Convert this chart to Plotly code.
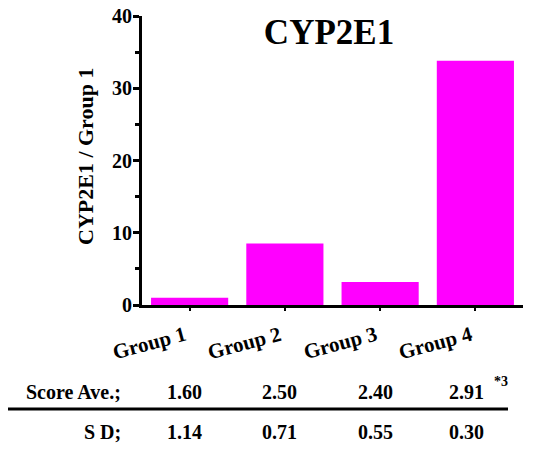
import plotly.graph_objects as go

groups = ["Group 1", "Group 2", "Group 3", "Group 4"]
ratio = [1.0, 8.5, 3.2, 33.8]
score_ave = ["1.60", "2.50", "2.40", "2.91"]
score_sd = ["1.14", "0.71", "0.55", "0.30"]
row_labels = ["Score Ave.;", "S D;"]
footnote = "*3"
y_ticks = [0, 10, 20, 30, 40]
y_title = "CYP2E1 / Group 1"
chart_title = "CYP2E1"

FONT = "Liberation Serif, Times New Roman, serif"
OFF = 8  # page body margin offset in the screenshot

def f(size):
    return dict(family=FONT, size=size, color="black", weight="bold")

fig = go.Figure()
fig.add_trace(go.Bar(x=groups, y=ratio, marker=dict(color="#ff00ff", line=dict(width=0)),
                     showlegend=False, hoverinfo="skip"))

fig.update_layout(
    width=539, height=450,
    margin=dict(l=142 - OFF, r=16 + OFF, t=16 - OFF, b=145 + OFF),
    paper_bgcolor="white", plot_bgcolor="white",
    bargap=0.19,
    font=dict(family=FONT, color="black"),
    title=dict(text=chart_title, font=f(35), x=(329 - OFF) / 539, xanchor="center",
               y=1 - (32 - OFF) / 450, yanchor="middle", xref="container", yref="container"),
)

fig.update_yaxes(
    range=[0, 40], tickmode="array", tickvals=y_ticks, showticklabels=False,
    automargin=False,
    showline=True, linewidth=3, linecolor="black",
    ticks="outside", ticklen=6, tickwidth=3, tickcolor="black",
    minor=dict(dtick=5, tick0=0, ticks="outside", ticklen=4, tickwidth=3, tickcolor="black"),
    showgrid=False, zeroline=False,
)
fig.update_xaxes(
    range=[-0.5, len(groups) - 0.5], autorange=False,
    showline=True, linewidth=3, linecolor="black", automargin=False, showticklabels=False,
    ticks="outside", ticklen=3, tickwidth=2, tickcolor="black",
    showgrid=False, zeroline=False,
)

def py(p):
    return (305 - p) / 289.0

def px(p):
    return (p - 142) / 381.0

# y tick labels placed on the y scale
for v in y_ticks:
    fig.add_annotation(text=str(v), xref="paper", yref="y", x=0, y=v, xanchor="right",
                       yanchor="middle", xshift=-8, showarrow=False, font=f(20))

# rotated group labels placed on the category scale
for g in groups:
    fig.add_annotation(text=g, xref="x", yref="y", x=g, y=0, xanchor="center", yanchor="middle",
                       xshift=-40, yshift=-38, textangle=-15, showarrow=False, font=f(21))

# y axis title
fig.add_annotation(text=y_title, xref="paper", yref="paper", x=px(85), y=py(157),
                   xanchor="center", yanchor="middle", textangle=-90, showarrow=False, font=f(22))

# table rows
for row, label, ypix in ((score_ave, row_labels[0], 392), (score_sd, row_labels[1], 432)):
    fig.add_annotation(text=label, xref="paper", yref="paper", x=px(123), y=py(ypix),
                       xanchor="right", yanchor="middle", showarrow=False, font=f(20))
    for i, (g, v) in enumerate(zip(groups, row)):
        fig.add_annotation(text=v, xref="x", yref="paper", x=g, y=py(ypix),
                           xanchor="center", yanchor="middle", showarrow=False,
                           xshift=-5 if i < 3 else -9, font=f(20))

fig.add_annotation(text=footnote, xref="x", yref="paper", x=groups[3], y=py(382),
                   xanchor="center", yanchor="middle", showarrow=False, xshift=26, font=f(14))

fig.add_shape(type="line", xref="paper", yref="paper", x0=px(8), x1=px(508),
              y0=py(409), y1=py(409), line=dict(color="black", width=3))

fig.write_html("out.html")
